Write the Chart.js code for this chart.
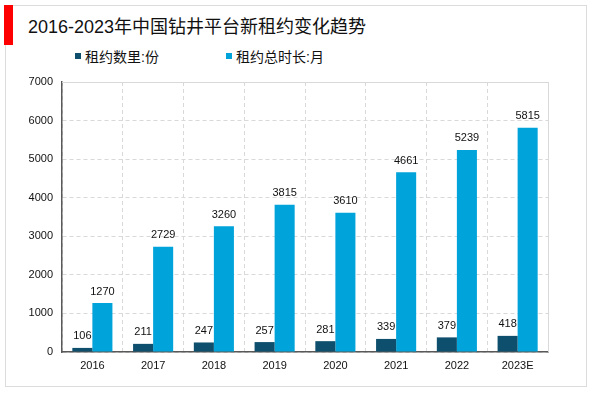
<!DOCTYPE html>
<html>
<head>
<meta charset="utf-8">
<script src="https://cdn.jsdelivr.net/npm/chart.js@4"></script>
<style>
  html, body { margin: 0; padding: 0; background: #fff; }
  body { width: 600px; height: 393px; position: relative; overflow: hidden;
    font-family: Arial, "Liberation Sans", "Noto Sans CJK SC", sans-serif; }
  .frame { position: absolute; left: 5px; top: 5px; width: 582px; height: 382px;
    border: 1px solid #dcdcdc; box-sizing: border-box; }
  .flag { position: absolute; left: 4px; top: 5px; width: 9px; height: 40px; background: #ff0000; }
  .title { position: absolute; left: 28px; top: 16px; font-size: 18px; line-height: 22px; color: #111; white-space: nowrap; }
  .legend { position: absolute; top: 48px; font-size: 14px; line-height: 18px; color: #111; white-space: nowrap; }
  .legend i { display: inline-block; width: 6px; height: 6px; margin-right: 4px; vertical-align: 3px; }
  #wrap { position: absolute; left: 0; top: 0; width: 600px; height: 393px; }
</style>
</head>
<body>
<div class="frame"></div>
<div class="flag"></div>
<div class="title">2016-2023年中国钻井平台新租约变化趋势</div>
<div class="legend" id="lg0" style="left:75px"></div>
<div class="legend" id="lg1" style="left:226px"></div>
<div id="wrap"><canvas id="c" width="600" height="393"></canvas></div>
<script>
  const years = ['2016', '2017', '2018', '2019', '2020', '2021', '2022', '2023E'];
  const leaseCount = [106, 211, 247, 257, 281, 339, 379, 418];
  const leaseMonths = [1270, 2729, 3260, 3815, 3610, 4661, 5239, 5815];
  const seriesNames = ['租约数里:份', '租约总时长:月'];
  const seriesColors = ['#0d4f6c', '#00a3da'];
  const yTicks = [0, 1000, 2000, 3000, 4000, 5000, 6000, 7000];

  seriesNames.forEach((name, i) => {
    document.getElementById('lg' + i).innerHTML =
      `<i style="background:${seriesColors[i]}"></i>${name}`;
  });

  // value labels above every bar + solid top/right frame of the plot
  const extras = {
    id: 'extras',
    afterDatasetsDraw(chart) {
      const { ctx, chartArea } = chart;
      ctx.save();
      ctx.strokeStyle = '#d9d9d9';
      ctx.lineWidth = 1;
      ctx.beginPath();
      ctx.moveTo(chartArea.left, chartArea.top + 0.5);
      ctx.lineTo(chartArea.right + 0.5, chartArea.top + 0.5);
      ctx.lineTo(chartArea.right + 0.5, chartArea.bottom);
      ctx.stroke();
      ctx.font = '11px Arial, "Liberation Sans", sans-serif';
      ctx.fillStyle = '#111';
      ctx.textAlign = 'center';
      ctx.textBaseline = 'bottom';
      chart.data.datasets.forEach((ds, di) => {
        chart.getDatasetMeta(di).data.forEach((bar, i) => {
          ctx.fillText(ds.data[i], bar.x, bar.y - 6);
        });
      });
      ctx.restore();
    },
  };

  new Chart(document.getElementById('c'), {
    type: 'bar',
    data: {
      labels: years,
      datasets: [
        { label: seriesNames[0], data: leaseCount, backgroundColor: seriesColors[0] },
        { label: seriesNames[1], data: leaseMonths, backgroundColor: seriesColors[1] },
      ],
    },
    options: {
      responsive: false,
      animation: false,
      categoryPercentage: 0.66,
      barPercentage: 1,
      layout: { padding: { top: 82, right: 52, bottom: 21, left: 0 } },
      plugins: { legend: { display: false }, tooltip: { enabled: false } },
      scales: {
        x: {
          afterFit: (scale) => { scale.height = 20; },
          grid: { color: '#d9d9d9', drawTicks: false, offset: true },
          border: { color: '#595959', width: 1.5, dash: [4, 3] },
          ticks: { color: '#111', padding: 7, font: { size: 11, family: 'Arial, "Liberation Sans"' } },
        },
        y: {
          min: 0,
          max: 7000,
          afterBuildTicks: (scale) => { scale.ticks = yTicks.map((v) => ({ value: v })); },
          afterFit: (scale) => { scale.width = 62; },
          grid: { color: '#d9d9d9', drawTicks: false },
          border: { color: '#595959', width: 1.5, dash: [4, 3] },
          ticks: {
            color: '#111', padding: 9, font: { size: 11, family: 'Arial, "Liberation Sans"' },
            callback: (v) => String(v),
          },
        },
      },
    },
    plugins: [extras],
  });
</script>
</body>
</html>
